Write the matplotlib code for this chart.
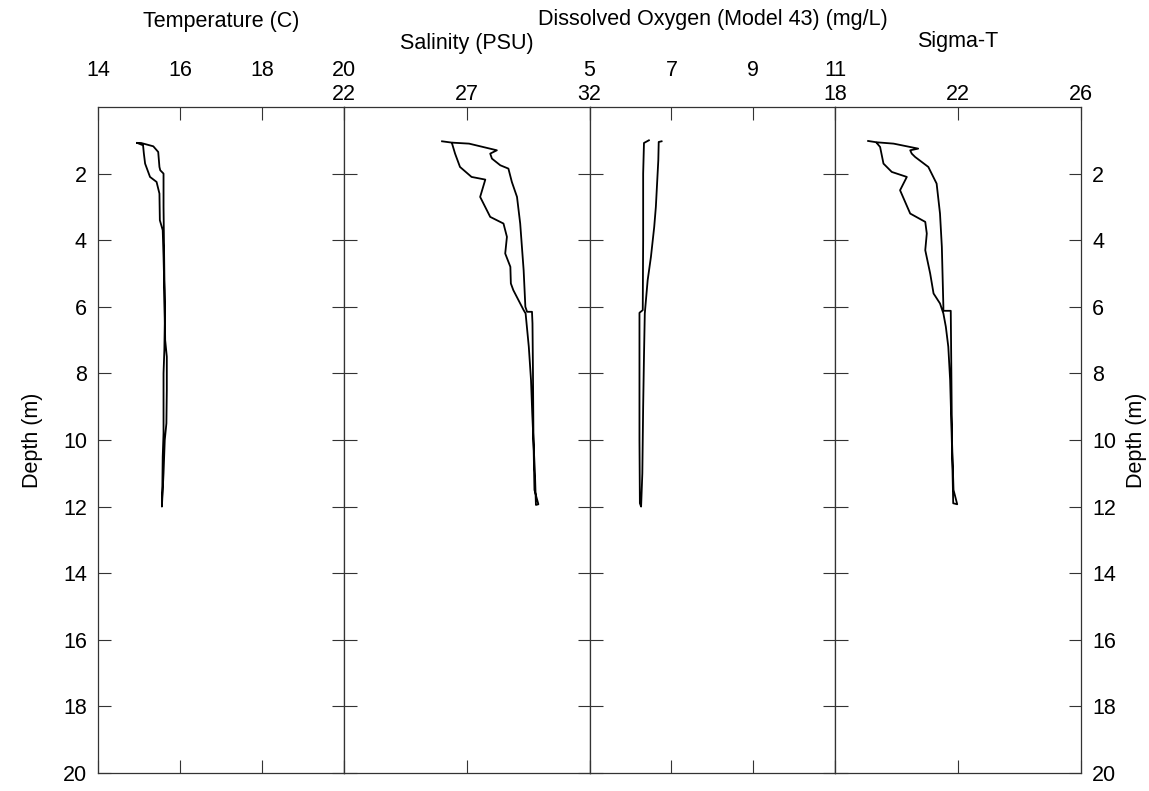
import matplotlib
matplotlib.use("Agg")
import matplotlib.pyplot as plt

plt.rcParams['font.family'] = ['Liberation Sans', 'DejaVu Sans']
plt.rcParams['font.size'] = 15.5

# --- data (value, depth) ---
temp_vals = [14.96, 15.10, 15.12, 15.15, 15.27, 15.43, 15.50, 15.51, 15.58, 15.60,
             15.62, 15.63, 15.62, 15.60, 15.60, 15.60, 15.58, 15.57, 15.56, 15.60,
             15.63, 15.67, 15.68, 15.68, 15.64, 15.63, 15.62, 15.61, 15.60, 15.60,
             15.52, 15.50, 15.47, 15.35, 15.05, 14.96]
temp_depth = [1.08, 1.15, 1.40, 1.70, 2.10, 2.25, 2.60, 3.40, 3.70, 4.50,
              5.50, 6.50, 7.30, 8.00, 9.00, 9.80, 10.50, 11.50, 12.00, 11.00,
              10.00, 9.50, 8.50, 7.50, 7.00, 6.00, 5.00, 4.00, 3.00, 2.00,
              1.90, 1.80, 1.35, 1.18, 1.08, 1.08]

sal_vals = [26.40, 26.53, 26.73, 27.20, 27.76, 27.55, 27.96, 28.50, 28.64, 28.57,
            28.78, 28.80, 28.90, 29.18, 29.32, 29.40, 29.53, 29.62, 29.67, 29.73,
            29.78, 29.82, 29.92, 29.76, 29.72, 29.70, 29.68, 29.66, 29.46, 29.39,
            29.32, 29.18, 29.05, 28.84, 28.70, 28.37, 28.03, 27.96, 28.23, 27.10,
            26.40, 26.00]
sal_depth = [1.08, 1.40, 1.80, 2.10, 2.18, 2.70, 3.30, 3.50, 3.90, 4.40,
             4.80, 5.30, 5.50, 5.90, 6.10, 6.20, 7.20, 8.20, 9.20, 10.20,
             11.00, 11.95, 11.93, 11.50, 10.00, 8.00, 6.50, 6.15, 6.15, 6.00,
             4.90, 3.50, 2.70, 2.25, 1.85, 1.75, 1.55, 1.40, 1.30, 1.10,
             1.07, 1.03]

do_vals = [6.45, 6.33, 6.31, 6.31, 6.30, 6.22, 6.22, 6.22, 6.23, 6.26,
           6.29, 6.31, 6.33, 6.35, 6.42, 6.50, 6.58, 6.62, 6.65, 6.68,
           6.69, 6.76]
do_depth = [1.00, 1.08, 2.00, 4.00, 6.10, 6.18, 8.00, 10.00, 11.90, 12.00,
            11.00, 9.00, 7.50, 6.20, 5.20, 4.50, 3.60, 3.00, 2.30, 1.60,
            1.05, 1.03]

sig_vals = [19.35, 19.46, 19.57, 19.84, 20.33, 20.11, 20.44, 20.93, 20.98, 20.93,
            21.09, 21.20, 21.41, 21.52, 21.60, 21.68, 21.74, 21.80, 21.84, 21.97,
            21.85, 21.80, 21.78, 21.76, 21.52, 21.52, 21.47, 21.41, 21.30, 21.03,
            20.60, 20.49, 20.44, 20.70, 19.90, 19.35, 19.07]
sig_depth = [1.08, 1.20, 1.70, 1.95, 2.10, 2.50, 3.20, 3.45, 3.80, 4.30,
             5.00, 5.60, 5.90, 6.20, 6.60, 7.20, 8.20, 10.20, 11.90, 11.93,
             11.50, 10.00, 8.00, 6.12, 6.12, 6.00, 4.20, 3.20, 2.30, 1.80,
             1.50, 1.40, 1.30, 1.25, 1.10, 1.06, 1.02]

titles = ['Temperature (C)', 'Salinity (PSU)',
          'Dissolved Oxygen (Model 43) (mg/L)', 'Sigma-T']
xlims = [(14, 20), (22, 32), (5, 11), (18, 26)]
xticks = [[14, 16, 18, 20], [22, 27, 32], [5, 7, 9, 11], [18, 22, 26]]
depth_ticks = [2, 4, 6, 8, 10, 12, 14, 16, 18, 20]

series = [(temp_vals, temp_depth), (sal_vals, sal_depth),
          (do_vals, do_depth), (sig_vals, sig_depth)]

fig = plt.figure(figsize=(11.49, 7.91), dpi=100)
L, R = 98 / 1149, 1081 / 1149
B, T = (791 - 773) / 791, (791 - 107) / 791
w = (R - L) / 4

spine_col = '#333333'
title_y = [22, 43, 20, 42]

for i in range(4):
    ax = fig.add_axes([L + i * w, B, w, T - B])
    vals, dep = series[i]
    ax.plot(vals, dep, color='black', lw=1.3)
    ax.set_xlim(*xlims[i])
    ax.set_ylim(20, 0)
    for s in ax.spines.values():
        s.set_color(spine_col)
        s.set_linewidth(0.9)

    ax.set_xticks(xticks[i])
    ax.set_xticklabels([str(t) for t in xticks[i]])
    pad = 19 if i in (0, 2) else 1.5
    ax.tick_params(axis='x', direction='in', length=9.5, width=0.8,
                   color=spine_col, top=True, bottom=True,
                   labeltop=True, labelbottom=False, pad=pad)

    # inward ticks on both sides of each separator make the cross marks
    ax.set_yticks(depth_ticks)
    ax.tick_params(axis='y', direction='in', length=9, width=0.8,
                   color=spine_col, left=True, right=True,
                   labelleft=(i == 0), labelright=(i == 3), pad=8)
    if i == 0:
        ax.set_ylabel('Depth (m)', labelpad=14)
    if i == 3:
        ax.yaxis.set_label_position('right')
        ax.set_ylabel('Depth (m)', labelpad=7)

    fig.text(L + (i + 0.5) * w, 1 - title_y[i] / 791, titles[i],
             ha='center', va='center')

fig.savefig('out.png', dpi=100)
